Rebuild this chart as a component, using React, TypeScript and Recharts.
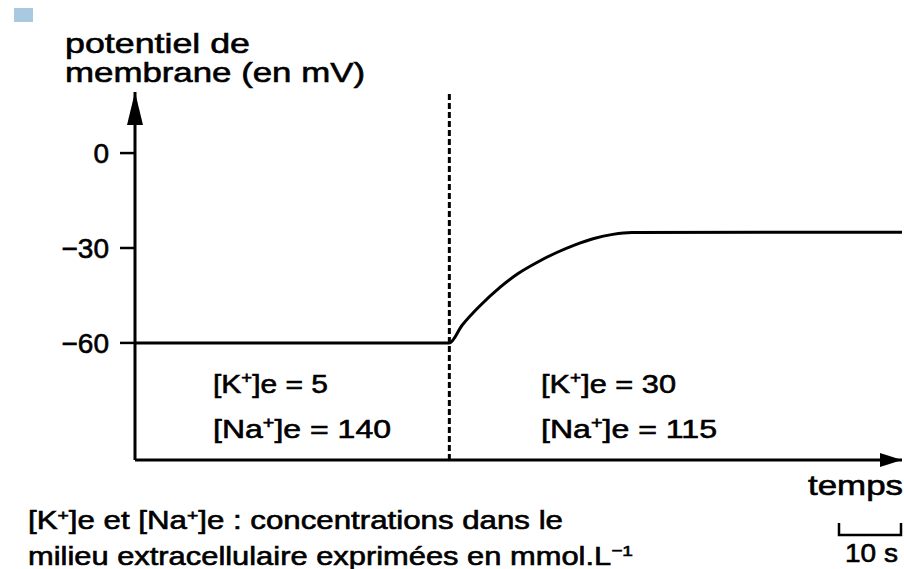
import React from 'react';
import { LineChart, Line, XAxis, YAxis, ReferenceLine, ReferenceDot } from 'recharts';

// temps (s) et potentiel de membrane (mV)
const timeS = [0, 50, 52, 55, 58, 61, 64, 67, 70, 73, 76, 79, 122];
const potentialMv = [-60, -60, -54.5, -48, -42.5, -38, -34.5, -31.5, -29, -27, -25.7, -25.1, -25];

const yTicks = [0, -30, -60];
const X_DOMAIN: [number, number] = [0, 122];
const Y_DOMAIN: [number, number] = [-97, 19.3];
const SWITCH_TIME = 50;

const rows = timeS.map((t, i) => ({ t, v: potentialMv[i] }));

const FONT = '"Liberation Sans", Arial, sans-serif';

const UpArrow = (props: any) => {
    const { cx, cy } = props;
    return <path d={`M${cx} ${cy} L${cx - 8} ${cy + 33} L${cx + 8} ${cy + 33} Z`} fill="#000" />;
};

const RightArrow = (props: any) => {
    const { cx, cy } = props;
    return <path d={`M${cx} ${cy} L${cx - 22} ${cy - 7} L${cx - 22} ${cy + 7} Z`} fill="#000" />;
};

const Sup = ({ children, size }: { children: string; size: number }) => (
    <>
        <tspan dy={-size * 0.38} fontSize={size * 0.62}>{children}</tspan>
        <tspan dy={size * 0.38} fontSize={size}>{'\u200b'}</tspan>
    </>
);

const Conc = ({ x, y, ion, value, width }: { x: number; y: number; ion: string; value: string; width: number }) => (
    <text x={x} y={y} fontSize={26} textLength={width} lengthAdjust="spacingAndGlyphs">
        [{ion}<Sup size={26}>+</Sup>]e = {value}
    </text>
);

const App: React.FC = () => {
    return (
        <div style={{ position: 'absolute', left: 0, top: 0, width: 904, height: 569, background: '#fff' }}>
            <LineChart width={904} height={569} data={rows} margin={{ top: 92, right: 2, bottom: 108, left: 0 }}>
                <XAxis
                    type="number"
                    dataKey="t"
                    domain={X_DOMAIN}
                    height={1}
                    tick={false}
                    tickLine={false}
                    axisLine={{ stroke: '#000', strokeWidth: 3 }}
                />
                <YAxis
                    type="number"
                    domain={Y_DOMAIN}
                    ticks={yTicks}
                    interval={0}
                    width={135}
                    tickSize={15}
                    tickMargin={11}
                    tickFormatter={(v: number) => String(v).replace('-', '\u2212')}
                    tick={{ fill: '#000', fontSize: 28, fontFamily: FONT, stroke: '#000', strokeWidth: 0.6 }}
                    tickLine={{ stroke: '#000', strokeWidth: 2.5 }}
                    axisLine={{ stroke: '#000', strokeWidth: 3 }}
                />
                <ReferenceLine x={SWITCH_TIME} stroke="#000" strokeWidth={3} strokeDasharray="6 3" />
                <Line
                    type="monotone"
                    dataKey="v"
                    stroke="#000"
                    strokeWidth={3}
                    dot={false}
                    isAnimationActive={false}
                />
                <ReferenceDot x={X_DOMAIN[0]} y={Y_DOMAIN[1]} ifOverflow="visible" shape={UpArrow} />
                <ReferenceDot x={X_DOMAIN[1]} y={Y_DOMAIN[0]} ifOverflow="visible" shape={RightArrow} />
            </LineChart>
            <svg
                width={904}
                height={569}
                style={{ position: 'absolute', left: 0, top: 0, pointerEvents: 'none' }}
                fontFamily={FONT}
                fill="#000"
                stroke="#000"
                strokeWidth={0.6}
            >
                <rect x={14} y={8} width={19} height={14} fill="#a9c9e1" stroke="none" />
                <text x={65} y={53} fontSize={28} textLength={185} lengthAdjust="spacingAndGlyphs">potentiel de</text>
                <text x={65} y={82} fontSize={28} textLength={300} lengthAdjust="spacingAndGlyphs">membrane (en mV)</text>

                <Conc x={213} y={393} ion="K" value="5" width={115} />
                <Conc x={213} y={438} ion="Na" value="140" width={178} />
                <Conc x={541} y={393} ion="K" value="30" width={135} />
                <Conc x={541} y={438} ion="Na" value="115" width={176} />

                <text x={903} y={495} fontSize={28} textAnchor="end" textLength={95} lengthAdjust="spacingAndGlyphs">temps</text>

                <text x={28} y={529} fontSize={25} textLength={535} lengthAdjust="spacingAndGlyphs">
                    [K<Sup size={25}>+</Sup>]e et [Na<Sup size={25}>+</Sup>]e : concentrations dans le
                </text>
                <text x={28} y={565} fontSize={25} textLength={605} lengthAdjust="spacingAndGlyphs">
                    milieu extracellulaire exprimées en mmol.L<Sup size={25}>{'\u22121'}</Sup>
                </text>

                <path d="M839 523 V535 H901 V523" strokeWidth={2.5} fill="none" />
                <text x={845} y={562} fontSize={25} textLength={53} lengthAdjust="spacingAndGlyphs">10 s</text>
            </svg>
        </div>
    );
};

export default App;
